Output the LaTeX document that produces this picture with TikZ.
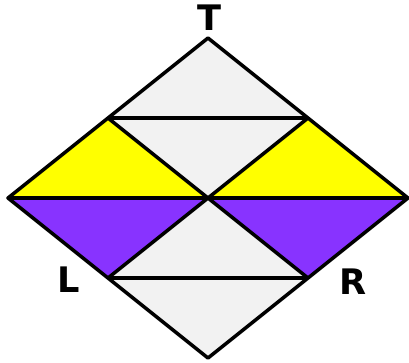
\documentclass[tikz,border=0pt]{standalone}
\usepackage{fontspec}
\setsansfont{DejaVu Sans}
\definecolor{lightgray}{RGB}{242,242,242}
\definecolor{sunyellow}{RGB}{255,255,0}
\definecolor{violet}{RGB}{136,51,255}
\begin{document}
\begin{tikzpicture}[line width=2.5pt, line join=round,
    vlabel/.style={font=\sffamily\bfseries\fontsize{25}{25}\selectfont, inner sep=0pt}]
    \useasboundingbox (-5.2,-4.1) rectangle (5.025,4.95);

    % 1. Đỉnh và trung điểm của hình thoi
    \coordinate (N) at (0, 4);
    \coordinate (W) at (-5, 0);
    \coordinate (E) at (5, 0);
    \coordinate (S) at (0, -4);
    \coordinate (O) at (0, 0);
    \coordinate (NW) at (-2.5, 2);
    \coordinate (NE) at (2.5, 2);
    \coordinate (SW) at (-2.5, -2);
    \coordinate (SE) at (2.5, -2);

    % 2. Tô màu các tam giác
    \fill[lightgray] (N) -- (NW) -- (NE) -- cycle;
    \fill[lightgray] (NW) -- (NE) -- (O) -- cycle;
    \fill[lightgray] (O) -- (SW) -- (SE) -- cycle;
    \fill[lightgray] (SW) -- (SE) -- (S) -- cycle;
    \fill[sunyellow] (W) -- (NW) -- (O) -- cycle;
    \fill[sunyellow] (O) -- (NE) -- (E) -- cycle;
    \fill[violet] (W) -- (SW) -- (O) -- cycle;
    \fill[violet] (O) -- (SE) -- (E) -- cycle;

    % 3. Các cạnh (nét liền màu đen)
    \draw[black] (N) -- (E) -- (S) -- (W) -- cycle;
    \draw[black] (NW) -- (NE);
    \draw[black] (W) -- (E);
    \draw[black] (SW) -- (SE);
    \draw[black] (NW) -- (SE);
    \draw[black] (NE) -- (SW);

    % 4. Nhãn
    \node[vlabel] (labT) at (0.025, 4.5) {T};
    \node[vlabel] (labL) at (-3.49, -2.05) {L};
    \node[vlabel] (labR) at (3.62, -2.09) {R};
\end{tikzpicture}
\end{document}
